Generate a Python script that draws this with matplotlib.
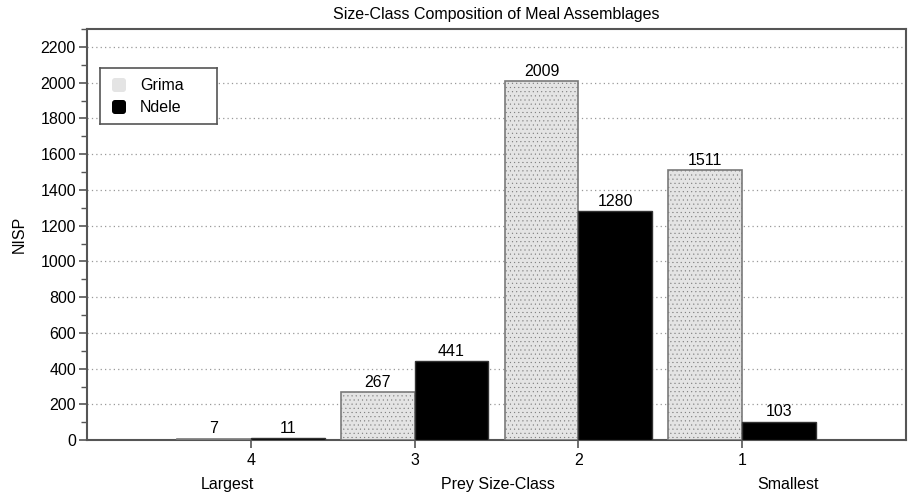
import matplotlib
matplotlib.use("Agg")
import matplotlib.pyplot as plt
import numpy as np
from matplotlib.patches import FancyBboxPatch
from matplotlib.ticker import MultipleLocator

plt.rcParams["font.family"] = ["Liberation Sans", "DejaVu Sans"]
plt.rcParams["hatch.color"] = "#d2d2d2"

# data
size_classes = ["4", "3", "2", "1"]
grima = [7, 267, 2009, 1511]
ndele = [11, 441, 1280, 103]
series_names = ["Grima", "Ndele"]

FS = 11.5

fig = plt.figure(figsize=(9.08, 4.94), dpi=100)
ax = fig.add_axes([0.0958, 0.109, 0.902, 0.832])

x = np.arange(1, len(size_classes) + 1)
w = 0.45

b1 = ax.bar(x - w / 2, grima, width=w, color="#e4e4e4", edgecolor="#7a7a7a",
            linewidth=1.2, hatch="....", zorder=3)
for p in b1:
    p.set_hatch_linewidth(0.3)
b2 = ax.bar(x + w / 2, ndele, width=w, color="black", edgecolor="#333333",
            linewidth=1.0, zorder=3)

for bars, vals in [(b1, grima), (b2, ndele)]:
    for p, v in zip(bars, vals):
        ax.text(p.get_x() + p.get_width() / 2, v + 14, str(v),
                ha="center", va="bottom", fontsize=FS)

ax.set_xlim(0, 5)
ax.set_ylim(0, 2300)
ax.set_xticks(x)
ax.set_xticklabels(size_classes, fontsize=FS)
ax.set_yticks(np.arange(0, 2201, 200))
ax.tick_params(axis="y", labelsize=FS, length=6, width=1.2, direction="out", color="#555555", pad=2)
ax.yaxis.set_minor_locator(MultipleLocator(100))
ax.tick_params(axis="y", which="minor", length=4, width=1.0, color="#555555")
ax.tick_params(axis="x", length=6, width=1.2, color="#555555", pad=3)

ax.grid(axis="y", linestyle=(0, (1, 2.5)), color="#999999", linewidth=0.9, zorder=0)
for s in ax.spines.values():
    s.set_color("#555555")
    s.set_linewidth(1.5)

ax.set_title("Size-Class Composition of Meal Assemblages", fontsize=FS, pad=7)
ax.set_ylabel("NISP", fontsize=FS, labelpad=10)

ax.text(0.171, -0.107, "Largest", transform=ax.transAxes, ha="center", va="center", fontsize=FS)
ax.text(0.502, -0.107, "Prey Size-Class", transform=ax.transAxes, ha="center", va="center", fontsize=FS)
ax.text(0.856, -0.107, "Smallest", transform=ax.transAxes, ha="center", va="center", fontsize=FS)

# legend drawn manually as a box
lax = fig.add_axes([100 / 908, 1 - 124 / 494, 117 / 908, 56 / 494])
lax.set_xlim(0, 117)
lax.set_ylim(56, 0)
lax.set_xticks([])
lax.set_yticks([])
for s in lax.spines.values():
    s.set_color("#555555")
    s.set_linewidth(1.2)
legend_colors = ["#e4e4e4", "black"]
for i, (name, c) in enumerate(zip(series_names, legend_colors)):
    yc = 17 + i * 22
    lax.add_patch(FancyBboxPatch((12, yc - 7), 14, 14, boxstyle="round,pad=0,rounding_size=3",
                                 facecolor=c, edgecolor="none"))
    lax.text(40, yc, name, va="center", ha="left", fontsize=FS)

fig.savefig("out.png", dpi=100)
